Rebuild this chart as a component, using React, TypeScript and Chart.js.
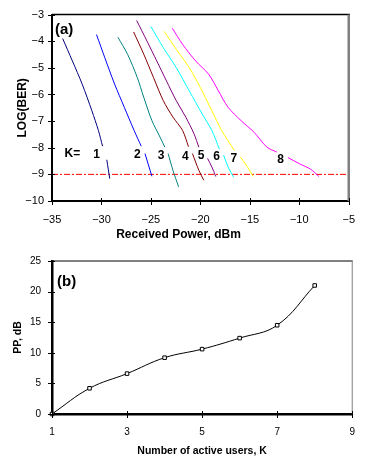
import { useEffect, useRef } from "react";
import { Chart, registerables } from "chart.js";

Chart.register(...registerables);

// ---------- Panel (a): LOG(BER) vs received power ----------
const powerK1 = [-33.92, -32.94, -31.95, -30.97, -30.31, -29.89, -29.7, -29.46, -29.16];
const berK1 = [-3.9, -4.74, -5.61, -6.61, -7.35, -7.94, null, -8.45, -9.16];

const powerK2 = [-30.5, -29.66, -28.67, -27.69, -26.7, -25.98, -25.8, -25.6, -24.9];
const berK2 = [-3.75, -4.62, -5.61, -6.48, -7.35, -7.94, null, -8.22, -9.07];

const powerK3 = [-28.34, -27.36, -26.38, -25.72, -24.9, -24.08, -23.59, -23.4, -23.26, -22.77, -22.2];
const berK3 = [-3.85, -4.49, -5.36, -6.11, -6.98, -7.6, -7.98, null, -8.22, -8.85, -9.47];

const powerK4 = [-26.75, -25.72, -24.74, -23.75, -22.77, -21.8, -21.2, -21.0, -20.8, -20.15, -19.66];
const berK4 = [-3.65, -4.49, -5.36, -6.23, -6.85, -7.35, -7.96, null, -8.22, -8.85, -9.22];

const powerK5 = [-26.44, -25.39, -24.41, -23.43, -22.44, -21.46, -20.64, -20.15, -19.7, -19.27, -18.84, -18.44];
const berK5 = [-3.22, -4.0, -4.74, -5.49, -6.23, -6.86, -7.48, -7.98, null, -8.4, -8.72, -9.08];

const powerK6 = [-25.0, -23.75, -22.44, -21.13, -19.82, -18.84, -18.08, -17.9, -17.65, -17.2, -16.63];
const berK6 = [-3.45, -4.24, -4.99, -5.86, -6.73, -7.35, -8.05, null, -8.28, -8.72, -9.11];

const powerK7 = [-23.66, -22.44, -21.13, -20.0, -18.84, -17.85, -16.57, -16.3, -15.95, -15.23, -14.66];
const berK7 = [-3.63, -4.3, -4.99, -5.74, -6.61, -7.35, -8.1, null, -8.35, -8.72, -9.08];

const powerK8 = [-22.84, -21.79, -20.48, -19.16, -18.18, -17.2, -15.89, -14.57, -13.26, -12.28, -11.7, -11.14, -9.98, -8.84, -8.02];
const berK8 = [-3.51, -4.12, -4.74, -5.24, -5.86, -6.48, -6.98, -7.42, -7.98, -8.16, null, -8.37, -8.6, -8.81, -9.08];

const curveColors = ["#000080", "#0000ff", "#008080", "#800000", "#800080", "#00ffff", "#ffff00", "#ff00ff"];

const thresholdPower = [-35, -5];
const thresholdBer = [-9, -9];

const labelTexts = ["K=", "1", "2", "3", "4", "5", "6", "7", "8"];
const labelPower = [-32.94, -30.48, -26.38, -23.98, -21.53, -19.92, -18.35, -16.61, -11.9];
const labelBer = [-8.22, -8.26, -8.25, -8.31, -8.32, -8.3, -8.35, -8.4, -8.44];

// ---------- Panel (b): power penalty vs number of users ----------
const activeUsers = [1, 2, 3, 4, 5, 6, 7, 8];
const powerPenalty = [0, 4.2, 6.6, 9.2, 10.6, 12.4, 14.5, 21];

const FONT = "'Liberation Sans', Arial, Helvetica, sans-serif";
const minus = (v: number | string) => String(v).replace("-", "\u2212");

const toPoints = (xs: number[], ys: (number | null)[]) => xs.map((x, i) => ({ x, y: ys[i] }));

const decorPlugin = {
  id: "decor",
  afterDraw(chart: any, _args: any, opts: any) {
    const { ctx, chartArea: a, scales } = chart;
    ctx.save();
    // top frame line
    ctx.strokeStyle = opts.topColor;
    ctx.lineWidth = opts.topWidth;
    ctx.beginPath();
    ctx.moveTo(a.left, a.top);
    ctx.lineTo(a.right + opts.rightWidth / 2, a.top);
    ctx.stroke();
    // right frame line
    ctx.strokeStyle = opts.rightColor;
    ctx.lineWidth = opts.rightWidth;
    ctx.beginPath();
    ctx.moveTo(a.right, a.top);
    ctx.lineTo(a.right, a.bottom);
    ctx.stroke();
    // crossing tick marks
    ctx.strokeStyle = "#000";
    ctx.lineWidth = 1;
    for (const t of scales.x.ticks) {
      const px = Math.round(scales.x.getPixelForValue(t.value)) + 0.5;
      ctx.beginPath();
      ctx.moveTo(px, a.bottom - opts.tickIn);
      ctx.lineTo(px, a.bottom + opts.tickOut);
      ctx.stroke();
    }
    for (const t of scales.y.ticks) {
      const py = Math.round(scales.y.getPixelForValue(t.value)) + 0.5;
      ctx.beginPath();
      ctx.moveTo(a.left - opts.tickOut, py);
      ctx.lineTo(a.left + opts.tickIn, py);
      ctx.stroke();
    }
    // panel tag
    ctx.fillStyle = "#000";
    ctx.font = `bold 15px ${FONT}`;
    ctx.textAlign = "left";
    ctx.textBaseline = "middle";
    ctx.fillText(opts.panel, a.left + opts.panelDx, a.top + opts.panelDy);
    // curve labels
    if (opts.labels) {
      ctx.font = `bold 12px ${FONT}`;
      ctx.textAlign = "center";
      opts.labels.texts.forEach((txt: string, i: number) => {
        const x = scales.x.getPixelForValue(opts.labels.xs[i]);
        const y = scales.y.getPixelForValue(opts.labels.ys[i]);
        ctx.fillText(txt, x, y);
      });
    }
    ctx.restore();
  },
};

function TopChart() {
  const ref = useRef<HTMLCanvasElement>(null);
  useEffect(() => {
    const curves = [
      [powerK1, berK1],
      [powerK2, berK2],
      [powerK3, berK3],
      [powerK4, berK4],
      [powerK5, berK5],
      [powerK6, berK6],
      [powerK7, berK7],
      [powerK8, berK8],
    ];
    const datasets: any[] = curves.map(([xs, ys], i) => ({
      label: `K=${i + 1}`,
      data: toPoints(xs as number[], ys as (number | null)[]),
      borderColor: curveColors[i],
      borderWidth: 1,
      pointRadius: 0,
      tension: 0.3,
      spanGaps: false,
    }));
    datasets.push({
      label: "BER = 1e-9",
      data: toPoints(thresholdPower, thresholdBer),
      borderColor: "#ff0000",
      borderWidth: 1,
      borderDash: [6, 2, 2, 2],
      pointRadius: 0,
    });
    const chart = new Chart(ref.current!, {
      type: "line",
      data: { datasets },
      plugins: [decorPlugin],
      options: {
        animation: false,
        responsive: false,
        devicePixelRatio: 1,
        layout: { padding: { top: 13, right: 10, left: 0, bottom: 0 } },
        plugins: {
          legend: { display: false },
          tooltip: { enabled: false },
          title: {
            display: true,
            position: "bottom",
            text: "Received Power, dBm",
            color: "#000",
            font: { family: FONT, size: 12, weight: "bold" },
            padding: { top: 0, bottom: 2 },
          },
          decor: {
            topColor: "#000",
            topWidth: 1.5,
            rightColor: "#808080",
            rightWidth: 2.5,
            tickIn: 3,
            tickOut: 4,
            panel: "(a)",
            panelDx: 3,
            panelDy: 15,
            labels: { texts: labelTexts, xs: labelPower, ys: labelBer },
          },
        } as any,
        scales: {
          x: {
            type: "linear",
            min: -35,
            max: -5,
            afterFit: (s: any) => {
              s.height = 26.6;
            },
            grid: { display: false, drawTicks: false },
            border: { display: true, color: "#000", width: 2 },
            ticks: {
              stepSize: 5,
              padding: 12,
              color: "#000",
              font: { family: FONT, size: 11 },
              callback: (v: any) => minus(v),
            },
          },
          y: {
            type: "linear",
            min: -10,
            max: -3,
            afterFit: (s: any) => {
              s.width = 52;
            },
            grid: { display: false, drawTicks: false },
            border: { display: true, color: "#000", width: 2 },
            ticks: {
              stepSize: 1,
              padding: 8,
              color: "#000",
              font: { family: FONT, size: 11 },
              callback: (v: any) => minus(v),
            },
            title: {
              display: true,
              text: "LOG(BER)",
              color: "#000",
              font: { family: FONT, size: 12, weight: "bold" },
              padding: { top: 15, bottom: 0 },
            },
          },
        },
      },
    });
    return () => chart.destroy();
  }, []);
  return <canvas ref={ref} width={367} height={244} style={{ display: "block" }} />;
}

function BottomChart() {
  const ref = useRef<HTMLCanvasElement>(null);
  useEffect(() => {
    const chart = new Chart(ref.current!, {
      type: "line",
      data: {
        datasets: [
          {
            label: "PP",
            data: toPoints(activeUsers, powerPenalty),
            borderColor: "#000",
            borderWidth: 1,
            tension: 0.4,
            pointStyle: "rect",
            pointRadius: 2.5,
            pointBorderWidth: 1,
            pointBackgroundColor: "#fff",
            pointBorderColor: "#000",
            clip: false,
          },
        ],
      },
      plugins: [decorPlugin],
      options: {
        animation: false,
        responsive: false,
        devicePixelRatio: 1,
        layout: { padding: { top: 11, right: 11, left: 0, bottom: 0 } },
        plugins: {
          legend: { display: false },
          tooltip: { enabled: false },
          decor: {
            topColor: "#000",
            topWidth: 1,
            rightColor: "#808080",
            rightWidth: 1,
            tickIn: 3,
            tickOut: 4,
            panel: "(b)",
            panelDx: 5,
            panelDy: 21,
          },
        } as any,
        scales: {
          x: {
            type: "linear",
            min: 1,
            max: 9,
            afterFit: (s: any) => {
              s.height = 43;
            },
            grid: { display: false, drawTicks: false },
            border: { display: true, color: "#000", width: 2.5 },
            ticks: {
              stepSize: 2,
              padding: 12,
              color: "#000",
              font: { family: FONT, size: 10 },
            },
            title: {
              display: true,
              text: "Number of active users, K",
              color: "#000",
              font: { family: FONT, size: 10.5, weight: "bold" },
              padding: { top: 0, bottom: 0 },
            },
          },
          y: {
            type: "linear",
            min: 0,
            max: 25,
            afterFit: (s: any) => {
              s.width = 52;
            },
            grid: { display: false, drawTicks: false },
            border: { display: true, color: "#000", width: 2.5 },
            ticks: {
              stepSize: 5,
              padding: 11,
              color: "#000",
              font: { family: FONT, size: 10 },
            },
            title: {
              display: true,
              text: "PP, dB",
              color: "#000",
              font: { family: FONT, size: 10.5, weight: "bold" },
              padding: { top: 12, bottom: 0 },
            },
          },
        },
      },
    });
    return () => chart.destroy();
  }, []);
  return <canvas ref={ref} width={367} height={213} style={{ display: "block" }} />;
}

export default function App() {
  return (
    <div
      style={{
        position: "fixed",
        left: 0,
        top: 0,
        width: 367,
        height: 457,
        background: "#fff",
        overflow: "hidden",
      }}
    >
      <TopChart />
      <BottomChart />
    </div>
  );
}
